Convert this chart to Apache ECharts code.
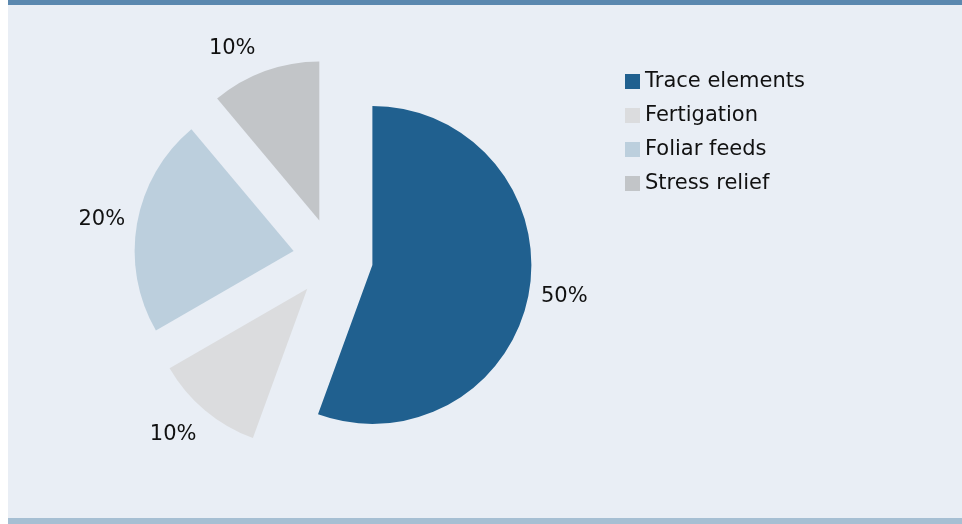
<!DOCTYPE html>
<html>
<head>
<meta charset="utf-8">
<script src="https://cdn.jsdelivr.net/npm/echarts@6/dist/echarts.min.js"></script>
<style>
	html, body { margin: 0; padding: 0; background: #ffffff; }
	#frame {
		position: absolute; left: 8px; top: 0; width: 954px; height: 513px;
		background: #e9eef5;
		border-top: 5px solid #5b88af;
		border-bottom: 6px solid #a6bfd3;
	}
	#report_chart { width: 954px; height: 513px; }
</style>
</head>
<body>
<div id="frame"><div id="report_chart"></div></div>
<script>
var categories = ['Trace elements', 'Fertigation', 'Foliar feeds', 'Stress relief'];
var values = [50, 10, 20, 10];
var colors = ['#20608f', '#dbdcde', '#bccfdd', '#c2c5c8'];

var pieCenter = [325, 253];
var fontName = "'DejaVu Sans', Verdana, sans-serif";

function initChart() {
	var data = [];
	for (var i = 0; i < categories.length; i++) {
		data.push({
			name : categories[i],
			value : values[i],
			selected : true,
			itemStyle : { color : colors[i] }
		});
	}

	var option_pie = {
		animation : false,
		textStyle : {
			fontFamily : fontName
		},
		legend : {
			orient : 'vertical',
			left : 612,
			top : 61,
			itemWidth : 15,
			itemHeight : 15,
			itemGap : 13,
			icon : 'rect',
			selectedMode : false,
			textStyle : {
				color : '#111111',
				fontSize : 21,
				lineHeight : 21,
				fontFamily : fontName
			},
			data : categories
		},
		series : [ {
			name : 'Share',
			type : 'pie',
			center : pieCenter,
			radius : 159,
			startAngle : 90,
			clockwise : true,
			selectedMode : 'multiple',
			selectedOffset : 40,
			avoidLabelOverlap : false,
			emphasis : { disabled : true },
			select : { itemStyle : { borderWidth : 0 } },
			itemStyle : { borderWidth : 0 },
			label : {
				show : true,
				position : 'outside',
				formatter : '{c}%',
				color : '#111111',
				fontSize : 21,
				fontFamily : fontName,
				distanceToLabelLine : 5
			},
			labelLine : {
				show : false,
				length : 4,
				length2 : 3
			},
			// push labels above the pie up and below it down, like the source
			labelLayout : function(params) {
				var r = params.labelRect;
				var lx = r.x + r.width / 2 - pieCenter[0];
				var ly = r.y + r.height / 2 - pieCenter[1];
				var len = Math.sqrt(lx * lx + ly * ly) || 1;
				var s = ly / len;
				var k = s > 0 ? 22 + 20 * s * s : 22;
				return { dy : k * s, dx : s > 0.5 ? 2 : 0 };
			},
			data : data
		} ]
	};

	var myChart = echarts.init(document.getElementById('report_chart'));
	myChart.setOption(option_pie);
	window.myChart = myChart;
}
initChart();
</script>
</body>
</html>
